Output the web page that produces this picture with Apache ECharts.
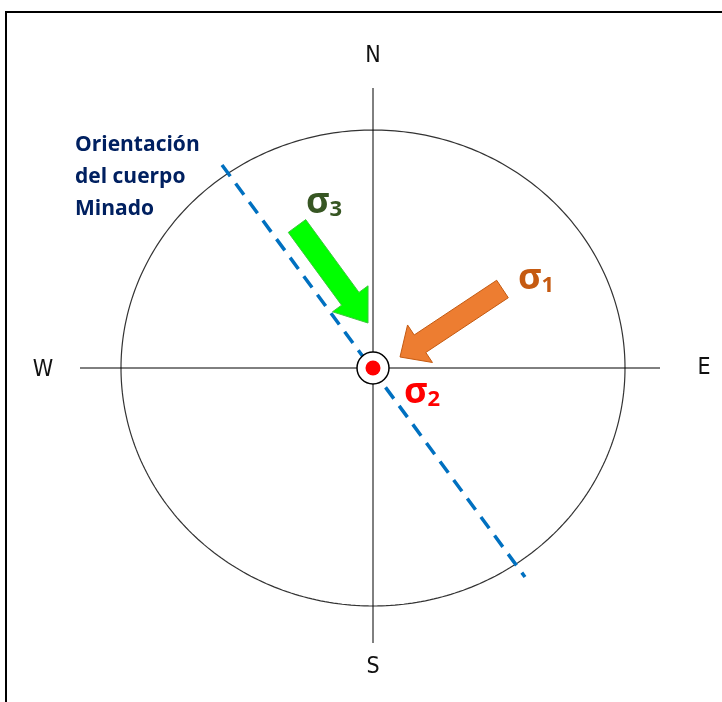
<!DOCTYPE html>
<html><head><meta charset="utf-8">
<script src="https://cdn.jsdelivr.net/npm/echarts@6/dist/echarts.min.js"></script>
<style>html,body{margin:0;padding:0;background:#fff}#c{width:722px;height:702px}</style>
</head><body><div id="c"></div>
<script>
// ---- Diagram data (units ~ px, origin at centre of the net, y upwards) ----
const ellipseRadii = [252, 238];
const northSouthAxis = [[0, 280], [0, -275]];
const westEastAxis = [[-293, 0], [287, 0]];
const bodyOrientation = [[-151, 203], [152, -209]];
const sigma3Arrow = [[-76, 142, -5, 45]];   // tail x,y, tip x,y
const sigma1Arrow = [[129.5, 79, 27, 11]];
const sigma2Point = [[0, 0]];
const compassLabels = [['N', 0, 312], ['S', 0, -299], ['W', -330, -2], ['E', 331, 0]];
const sigmaLabels = [['3', -49, 165, '#375623'], ['1', 163, 89, '#c55a11'], ['2', 49, -25, '#ff0000']];
const noteText = ['Orientación', 'del cuerpo', 'Minado'];
const notePos = [[-298, 239]];

const ellipsePts = [];
for (let i = 0; i <= 360; i++) {
  const a = i * Math.PI / 180;
  ellipsePts.push([ellipseRadii[0] * Math.cos(a), ellipseRadii[1] * Math.sin(a)]);
}

function arrowItem(shaftW, headW, headL, fill, stroke) {
  return function (params, api) {
    const t = api.coord([api.value(0), api.value(1)]);
    const h = api.coord([api.value(2), api.value(3)]);
    const dx = h[0] - t[0], dy = h[1] - t[1], L = Math.hypot(dx, dy);
    const ux = dx / L, uy = dy / L, px = -uy, py = ux;
    const bx = h[0] - ux * headL, by = h[1] - uy * headL;
    const s = shaftW / 2, w = headW / 2;
    const pts = [
      [t[0] + px * s, t[1] + py * s],
      [bx + px * s, by + py * s],
      [bx + px * w, by + py * w],
      h,
      [bx - px * w, by - py * w],
      [bx - px * s, by - py * s],
      [t[0] - px * s, t[1] - py * s]
    ];
    return { type: 'polygon', shape: { points: pts }, style: { fill: fill, stroke: stroke, lineWidth: 1 } };
  };
}

const chart = echarts.init(document.getElementById('c'), null, { renderer: 'canvas' });
const thin = { color: '#000', width: 1 };
const solid = { opacity: 1 };
chart.setOption({
  animation: false,
  backgroundColor: '#fff',
  grid: { left: 0, right: 0, top: 0, bottom: 0 },
  xAxis: { type: 'value', min: -373, max: 349, show: false },
  yAxis: { type: 'value', min: -334, max: 368, show: false },
  graphic: [{
    type: 'rect', shape: { x: 6, y: 12, width: 740, height: 720 },
    style: { fill: 'none', stroke: '#000', lineWidth: 2 }, z: 100
  }],
  series: [
    { type: 'line', data: ellipsePts, symbol: 'none', lineStyle: { color: '#333', width: 1.2 }, z: 1 },
    { type: 'line', data: northSouthAxis, symbol: 'none', lineStyle: thin, z: 1 },
    { type: 'line', data: westEastAxis, symbol: 'none', lineStyle: thin, z: 1 },
    { type: 'line', data: bodyOrientation, symbol: 'none',
      lineStyle: { color: '#0070c0', width: 3.5, type: [14, 9] }, z: 2 },
    { type: 'custom', data: sigma3Arrow, encode: { x: [0, 2], y: [1, 3] },
      renderItem: arrowItem(21.6, 44, 30, '#00ff00', '#3cc83c'), z: 3 },
    { type: 'custom', data: sigma1Arrow, encode: { x: [0, 2], y: [1, 3] },
      renderItem: arrowItem(21, 45, 24, '#ed7d31', '#c55a11'), z: 3 },
    { type: 'scatter', data: sigma2Point, symbolSize: 32,
      itemStyle: { color: '#fff', borderColor: '#000', borderWidth: 1.5, opacity: 1 }, z: 4 },
    { type: 'scatter', data: sigma2Point, symbolSize: 15, itemStyle: { color: '#ff0000', opacity: 1 }, z: 5 },
    { type: 'scatter', data: compassLabels.map(d => ({ value: [d[1], d[2]], name: d[0] })), symbolSize: 0,
      itemStyle: solid,
      label: { show: true, position: [0, 0], align: 'center', verticalAlign: 'middle', opacity: 1,
        formatter: p => p.name, fontSize: 23, color: '#111',
        fontFamily: "'Liberation Sans Narrow','DejaVu Sans Condensed','Roboto',sans-serif" }, z: 6 },
    { type: 'scatter', data: sigmaLabels.map(d => ({
        value: [d[1], d[2]], name: d[0],
        label: { rich: { s: { fontSize: 36, fontWeight: 'bold', color: d[3], fontFamily: "'Open Sans',sans-serif" },
                         n: { fontSize: 22, fontWeight: 'bold', color: d[3], fontFamily: "'Open Sans',sans-serif", padding: [14, 0, 0, 0] } } }
      })), symbolSize: 0, itemStyle: solid,
      label: { show: true, position: [0, 0], align: 'center', verticalAlign: 'middle', opacity: 1,
        formatter: p => '{s|σ}{n|' + p.name + '}' }, z: 6 },
    { type: 'scatter', data: notePos, symbolSize: 0, itemStyle: solid,
      label: { show: true, position: [0, 0], align: 'left', verticalAlign: 'top', opacity: 1,
        formatter: noteText.join('\n'), fontSize: 21, lineHeight: 32, fontWeight: 'bold',
        color: '#002060', fontFamily: "'Open Sans',sans-serif" }, z: 6 }
  ]
});
</script></body></html>
